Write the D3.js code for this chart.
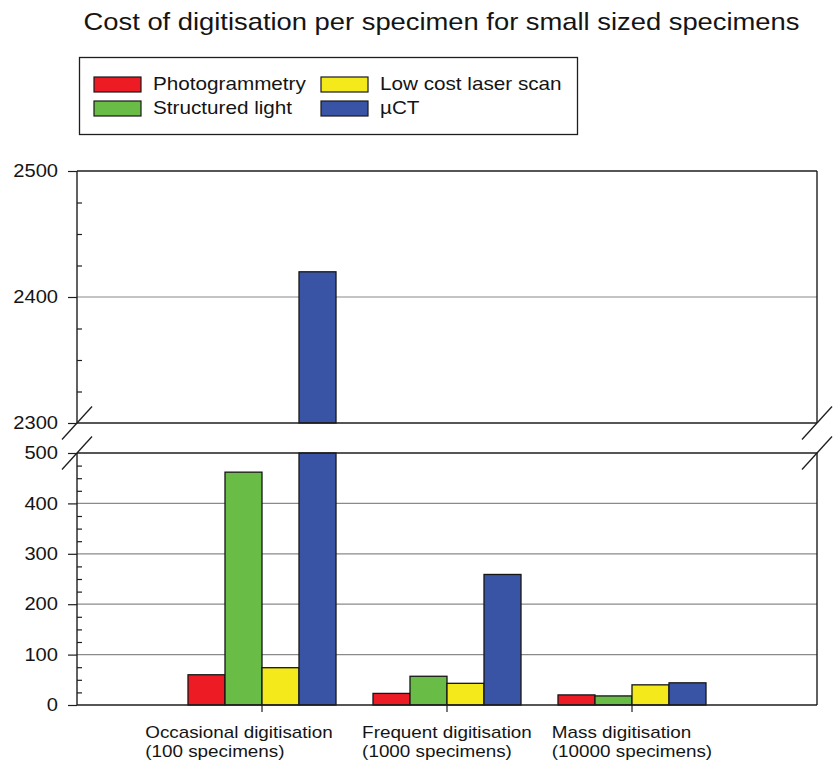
<!DOCTYPE html>
<html><head><meta charset="utf-8">
<script src="https://cdn.jsdelivr.net/npm/d3@7"></script>
<style>
body{margin:0;background:#fff}
text{font-family:"Liberation Sans",Arial,Helvetica,sans-serif;fill:#141414}
</style>
</head><body>
<svg id="c" width="834" height="764"></svg>
<script>
// ---------- data ----------
const title = "Cost of digitisation per specimen for small sized specimens";
const categoryLines = [
  ["Occasional digitisation", "(100 specimens)"],
  ["Frequent digitisation", "(1000 specimens)"],
  ["Mass digitisation", "(10000 specimens)"]
];
const seriesNames = ["Photogrammetry", "Structured light", "Low cost laser scan", "\u00b5CT"];
const seriesColors = ["#ed1c24", "#69bc45", "#f4e91a", "#3a54a5"];
const photogrammetry = [60, 23, 20];
const structuredLight = [462, 57, 18];
const lowCostLaser = [74, 43, 40];
const microCT = [2420, 259, 44];
const upperTicks = [2300, 2400, 2500];
const lowerTicks = [0, 100, 200, 300, 400, 500];
const legendOrder = [0, 1, 2, 3]; // column-major: col1 rows 0,1 ; col2 rows 2,3

// ---------- layout ----------
const SX = 1.15;               // horizontal stretch of the reference's lettering
const svg = d3.select("#c");
const seriesValues = [photogrammetry, structuredLight, lowCostLaser, microCT];
const x = d3.scaleLinear().domain([0, 4]).range([77, 817]);
const yU = d3.scaleLinear().domain([2300, 2500]).range([423, 171]);
const yL = d3.scaleLinear().domain([0, 500]).range([705, 453]);
const barUnits = 0.2;
const frameColor = "#1e1e1e", gridColor = "#8a8a8a";

// title
svg.append("text").attr("text-anchor", "middle")
  .attr("transform", `translate(441.5,30) scale(${SX},1)`)
  .style("font-size", "23.8px").text(title);

// legend
svg.append("rect").attr("x", 79.5).attr("y", 57.5).attr("width", 498).attr("height", 77)
  .attr("fill", "#fff").attr("stroke", frameColor).attr("stroke-width", 1.3);
legendOrder.forEach((si, k) => {
  const col = Math.floor(k / 2), row = k % 2;
  const sx = col ? 321 : 94, tx = col ? 380 : 153;
  const sy = 77 + row * 24;
  svg.append("rect").attr("x", sx).attr("y", sy).attr("width", 47).attr("height", 15)
    .attr("fill", seriesColors[si]).attr("stroke", "#1a1a1a").attr("stroke-width", 1.2);
  svg.append("text").attr("transform", `translate(${tx},${sy + 13}) scale(${SX},1)`)
    .style("font-size", "18px").text(seriesNames[si]);
});

// gridlines
const grid = svg.append("g").attr("stroke", gridColor).attr("stroke-width", 1.2);
upperTicks.filter(t => t > 2300 && t < 2500).forEach(t =>
  grid.append("line").attr("x1", x(0)).attr("x2", x(4)).attr("y1", yU(t)).attr("y2", yU(t)));
lowerTicks.filter(t => t > 0 && t < 500).forEach(t =>
  grid.append("line").attr("x1", x(0)).attr("x2", x(4)).attr("y1", yL(t)).attr("y2", yL(t)));

// bars
const bars = svg.append("g").attr("stroke", "#161616").attr("stroke-width", 1.3);
seriesValues.forEach((vals, si) => {
  vals.forEach((v, j) => {
    const x0 = x(j + 1 + (si - 2) * barUnits), w = x(barUnits) - x(0);
    // lower panel
    const topL = yL(Math.min(v, 500));
    bars.append("rect").attr("x", x0).attr("y", topL).attr("width", w)
      .attr("height", yL(0) - topL).attr("fill", seriesColors[si]);
    // upper panel
    if (v > 2300) {
      const topU = yU(Math.min(v, 2500));
      bars.append("rect").attr("x", x0).attr("y", topU).attr("width", w)
        .attr("height", yU(2300) - topU).attr("fill", seriesColors[si]);
    }
  });
});

// frames
const fr = svg.append("g").attr("stroke", frameColor).attr("stroke-width", 1.4).attr("fill", "none");
[[yU(2500), yU(2300)], [yL(500), yL(0)]].forEach(([t, b]) => {
  fr.append("line").attr("x1", x(0)).attr("x2", x(4)).attr("y1", t).attr("y2", t);
  fr.append("line").attr("x1", x(0)).attr("x2", x(4)).attr("y1", b).attr("y2", b);
  fr.append("line").attr("x1", x(0)).attr("x2", x(0)).attr("y1", t).attr("y2", b);
  fr.append("line").attr("x1", x(4)).attr("x2", x(4)).attr("y1", t).attr("y2", b);
});

// break marks
[x(0), x(4)].forEach(bx => [yU(2300), yL(500)].forEach(by => {
  fr.append("line").attr("x1", bx - 15).attr("y1", by + 16.5).attr("x2", bx + 15).attr("y2", by - 16.5)
    .attr("stroke-width", 1.3);
}));

// y axes
function styleAxis(g) {
  g.select(".domain").remove();
  g.selectAll(".tick line").attr("stroke", frameColor).attr("stroke-width", 1.2);
}
function axisPanel(scale, ticks) {
  const g = svg.append("g").attr("transform", `translate(${x(0)},0)`)
    .call(d3.axisLeft(scale).tickValues(ticks).tickSize(9).tickPadding(10).tickFormat(d3.format("d")));
  styleAxis(g);
  g.selectAll(".tick text").each(function () {
    const xx = +this.getAttribute("x");
    d3.select(this).attr("x", 0).attr("transform", `translate(${xx},0) scale(${SX},1)`)
      .style("font-size", "17.5px").attr("fill", "#141414");
  });
  const d = scale.domain(), minor = [];
  for (let v = d[0]; v <= d[1]; v += (ticks[1] - ticks[0]) / 4) if (!ticks.includes(v)) minor.push(v);
  const gm = svg.append("g").attr("transform", `translate(${x(0)},0)`)
    .call(d3.axisLeft(scale).tickValues(minor).tickSize(-5).tickFormat(""));
  styleAxis(gm);
}
axisPanel(yU, upperTicks);
axisPanel(yL, lowerTicks);

// x ticks
[1, 2, 3].forEach(c => svg.append("line").attr("x1", x(c)).attr("x2", x(c))
  .attr("y1", yL(0)).attr("y2", yL(0) + 7).attr("stroke", frameColor).attr("stroke-width", 1.2));

// x labels (left-aligned blocks)
const labelShift = [-23, 0, 0];
categoryLines.forEach((lines, j) => {
  const g = svg.append("g");
  const t = g.append("text").style("font-size", "16.4px");
  lines.forEach((ln, k) => t.append("tspan").attr("x", 0).attr("y", k * 19.5).text(ln));
  let maxW = 0;
  t.selectAll("tspan").each(function () { maxW = Math.max(maxW, this.getComputedTextLength()); });
  const left = x(j + 1) - maxW * SX / 2 + labelShift[j];
  g.attr("transform", `translate(${left},738) scale(${SX},1)`);
});
</script>
</body></html>
